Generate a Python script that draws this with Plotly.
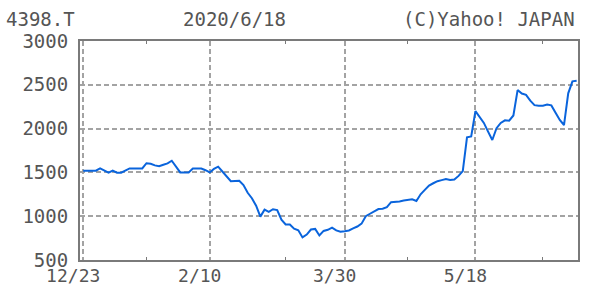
import plotly.graph_objects as go

# Daily closing prices (trading days from 2019/12/23 to 2020/6/18)
close = [
    1520, 1520, 1520, 1520, 1545, 1520, 1497, 1520, 1497, 1497,
    1525, 1545, 1545, 1545, 1545, 1605, 1598, 1580, 1570, 1588,
    1603, 1633, 1560, 1500, 1500, 1500, 1545, 1545, 1545, 1525,
    1500, 1540, 1565, 1510, 1460, 1400, 1403, 1405, 1355, 1267,
    1205, 1120, 995, 1075, 1050, 1080, 1070, 960, 905, 905,
    858, 840, 758, 790, 848, 855, 780, 832, 845, 870,
    838, 823, 828, 837, 861, 882, 915, 1000, 1028, 1055,
    1082, 1085, 1104, 1160, 1161, 1168, 1178, 1189, 1192, 1173,
    1250, 1300, 1350, 1376, 1400, 1412, 1424, 1413, 1418, 1460,
    1514, 1900, 1910, 2200, 2125, 2065, 1965, 1870, 2005, 2065,
    2095, 2090, 2150, 2440, 2400, 2385, 2320, 2268, 2260, 2262,
    2275, 2265, 2180, 2098, 2041, 2403, 2540, 2547,
]
day_index = list(range(len(close)))

tick_idx = [0, 30, 62, 93]
tick_labels = ["12/23", "2/10", "3/30", "5/18"]
minor_idx = [15, 48, 77, 109]

y_ticks = [500, 1000, 1500, 2000, 2500, 3000]

symbol_text = "4398.T"
date_text = "2020/6/18"
credit_text = "(C)Yahoo! JAPAN"

FONT = "DejaVu Sans Mono"
TXT = "#555555"
GRID = "#a3a3a3"
BORDER = "#7a7a7a"

fig = go.Figure()
fig.add_trace(go.Scatter(
    x=day_index, y=close, mode="lines",
    line=dict(color="#0a64dc", width=2),
    hoverinfo="skip", showlegend=False,
))

fig.update_layout(
    width=600, height=289,
    margin=dict(l=80, r=22, t=41, b=29, autoexpand=False),
    paper_bgcolor="white", plot_bgcolor="white",
    font=dict(family=FONT, size=19, color=TXT),
    showlegend=False,
)

fig.update_xaxes(
    range=[-0.76, 117.32], automargin=False,
    tickmode="array", tickvals=tick_idx, ticktext=tick_labels,
    ticks="", ticklabelshift=-10, ticklabelstandoff=-2,
    showgrid=True, gridcolor=GRID, gridwidth=2, griddash="5px,3px",
    showline=True, linecolor=BORDER, linewidth=2, mirror="allticks",
    zeroline=False,
    minor=dict(tickmode="array", tickvals=minor_idx, ticks="inside",
               ticklen=3, tickwidth=1, tickcolor=BORDER, showgrid=False),
    tickfont=dict(family=FONT, size=18, color=TXT),
)
fig.update_yaxes(
    range=[500, 3000], automargin=False,
    tickmode="array", tickvals=y_ticks, ticktext=[str(v) for v in y_ticks],
    ticks="", ticklabelstandoff=6,
    showgrid=True, gridcolor=GRID, gridwidth=2, griddash="5px,3px",
    showline=True, linecolor=BORDER, linewidth=2, mirror=True,
    zeroline=False,
    tickfont=dict(family=FONT, size=19, color=TXT),
)

fig.add_annotation(text=symbol_text, xref="paper", yref="paper",
                   x=(4 - 80) / 498, y=1 + (41 - 18.5) / 219,
                   xanchor="left", yanchor="middle", showarrow=False,
                   font=dict(family=FONT, size=19, color=TXT))
fig.add_annotation(text=date_text, xref="paper", yref="paper",
                   x=(234 - 80) / 498, y=1 + (41 - 18.5) / 219,
                   xanchor="center", yanchor="middle", showarrow=False,
                   font=dict(family=FONT, size=19, color=TXT))
fig.add_annotation(text=credit_text, xref="paper", yref="paper",
                   x=(577 - 80) / 498, y=1 + (41 - 18.5) / 219,
                   xanchor="right", yanchor="middle", showarrow=False,
                   font=dict(family=FONT, size=19, color=TXT))

fig.write_html("out.html")
